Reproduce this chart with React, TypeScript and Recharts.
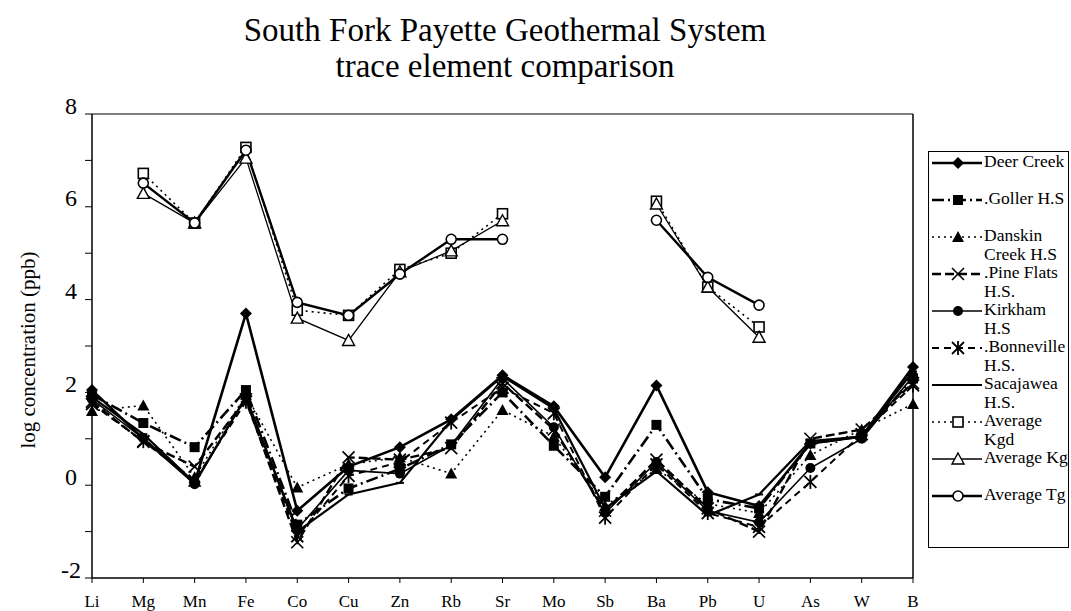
import * as React from 'react';
import { LineChart, Line, XAxis, YAxis, ReferenceLine } from 'recharts';

const elements = ['Li', 'Mg', 'Mn', 'Fe', 'Co', 'Cu', 'Zn', 'Rb', 'Sr', 'Mo', 'Sb', 'Ba', 'Pb', 'U', 'As', 'W', 'B'];

const deerCreek = [2.05, 1.0, 0.05, 3.7, -0.55, 0.4, 0.82, 1.42, 2.37, 1.7, 0.17, 2.15, -0.15, -0.45, 0.9, 1.05, 2.55];
const goller = [1.95, 1.34, 0.82, 2.05, -0.85, -0.07, 0.35, 0.88, 2.0, 0.85, -0.25, 1.3, -0.3, -0.5, 0.9, 1.05, 2.3];
const danskin = [1.6, 1.72, 0.17, 1.95, -0.05, 0.45, 0.6, 0.25, 1.62, 1.05, -0.45, 0.35, -0.4, -0.6, 0.65, 1.2, 1.75];
const pineFlats = [1.8, 0.93, 0.4, 1.85, -1.23, 0.6, 0.55, 0.8, 2.2, 1.2, -0.55, 0.55, -0.5, -1.0, 1.0, 1.2, 2.2];
const kirkham = [1.85, 1.01, 0.02, 1.9, -0.95, 0.32, 0.25, 0.86, 2.3, 1.25, -0.6, 0.5, -0.55, -0.8, 0.37, 1.0, 2.35];
const bonneville = [1.75, 0.95, 0.1, 1.8, -1.1, 0.2, 0.5, 1.35, 2.1, 1.55, -0.7, 0.45, -0.6, -0.9, 0.07, 1.1, 2.15];
const sacajawea = [1.9, 1.1, 0.05, 1.9, -1.0, -0.2, 0.05, 1.4, 2.35, 1.65, -0.5, 0.3, -0.65, -0.2, 0.95, 1.05, 2.45];
const avgKgd = [null, 6.72, 5.65, 7.28, 3.77, 3.66, 4.65, 5.0, 5.85, null, null, 6.12, 4.27, 3.41, null, null, null];
const avgKg = [null, 6.29, 5.65, 7.05, 3.6, 3.12, 4.6, 5.05, 5.7, null, null, 6.06, 4.27, 3.19, null, null, null];
const avgTg = [null, 6.51, 5.65, 7.22, 3.94, 3.66, 4.55, 5.3, 5.3, null, null, 5.71, 4.48, 3.88, null, null, null];

const yTicks = [-2, -1, 0, 1, 2, 3, 4, 5, 6, 7, 8];

const SERIF = "'Liberation Serif', 'Times New Roman', 'DejaVu Serif', serif";

type Shape = 'diamond' | 'square' | 'triangle' | 'x' | 'circle' | 'star' | 'dash' | 'oSquare' | 'oTriangle' | 'oCircle';

type SeriesDef = {
  key: string;
  name: string[];
  values: (number | null)[];
  shape: Shape;
  width: number;
  dash?: string;
};

const series: SeriesDef[] = [
  { key: 'deer', name: ['Deer Creek'], values: deerCreek, shape: 'diamond', width: 2.6 },
  { key: 'goller', name: ['.Goller H.S'], values: goller, shape: 'square', width: 2.6, dash: '12 4 2 4' },
  { key: 'danskin', name: ['Danskin', 'Creek H.S'], values: danskin, shape: 'triangle', width: 1.6, dash: '2 4' },
  { key: 'pine', name: ['.Pine Flats', 'H.S.'], values: pineFlats, shape: 'x', width: 2.4, dash: '9 4' },
  { key: 'kirkham', name: ['Kirkham', 'H.S'], values: kirkham, shape: 'circle', width: 1.6 },
  { key: 'bonne', name: ['.Bonneville', 'H.S.'], values: bonneville, shape: 'star', width: 2, dash: '7 5' },
  { key: 'saca', name: ['Sacajawea', 'H.S.'], values: sacajawea, shape: 'dash', width: 2.2 },
  { key: 'kgd', name: ['Average', 'Kgd'], values: avgKgd, shape: 'oSquare', width: 1.6, dash: '2 4' },
  { key: 'kg', name: ['Average Kg'], values: avgKg, shape: 'oTriangle', width: 1.3 },
  { key: 'tg', name: ['Average Tg'], values: avgTg, shape: 'oCircle', width: 2.4 },
];

const data = elements.map((el, i) => {
  const row: Record<string, string | number | null> = { el };
  series.forEach((s) => {
    row[s.key] = s.values[i];
  });
  return row;
});

function Marker({ shape, cx, cy }: { shape: Shape; cx: number; cy: number }) {
  const s = 5;
  switch (shape) {
    case 'diamond':
      return <polygon points={`${cx},${cy - 6} ${cx + 6},${cy} ${cx},${cy + 6} ${cx - 6},${cy}`} fill="#000" />;
    case 'square':
      return <rect x={cx - s} y={cy - s} width={s * 2} height={s * 2} fill="#000" />;
    case 'triangle':
      return <polygon points={`${cx},${cy - 6} ${cx + 6},${cy + 5} ${cx - 6},${cy + 5}`} fill="#000" />;
    case 'x':
      return (
        <g stroke="#000" strokeWidth={1.6}>
          <line x1={cx - 6} y1={cy - 6} x2={cx + 6} y2={cy + 6} />
          <line x1={cx - 6} y1={cy + 6} x2={cx + 6} y2={cy - 6} />
        </g>
      );
    case 'circle':
      return <circle cx={cx} cy={cy} r={5} fill="#000" />;
    case 'star':
      return (
        <g stroke="#000" strokeWidth={1.8}>
          <line x1={cx - 6} y1={cy - 6} x2={cx + 6} y2={cy + 6} />
          <line x1={cx - 6} y1={cy + 6} x2={cx + 6} y2={cy - 6} />
          <line x1={cx} y1={cy - 7} x2={cx} y2={cy + 7} />
        </g>
      );
    case 'dash':
      return <line x1={cx - 4} y1={cy} x2={cx + 4} y2={cy} stroke="#000" strokeWidth={2} />;
    case 'oSquare':
      return <rect x={cx - 5} y={cy - 5} width={10} height={10} fill="#fff" stroke="#000" strokeWidth={1.6} />;
    case 'oTriangle':
      return (
        <polygon
          points={`${cx},${cy - 6} ${cx + 6},${cy + 5} ${cx - 6},${cy + 5}`}
          fill="#fff"
          stroke="#000"
          strokeWidth={1.4}
        />
      );
    case 'oCircle':
      return <circle cx={cx} cy={cy} r={5} fill="#fff" stroke="#000" strokeWidth={1.6} />;
  }
  return null;
}

function makeDot(shape: Shape) {
  return (props: any) => {
    const { cx, cy, value, index } = props;
    if (value == null || cx == null || cy == null || Number.isNaN(cy)) {
      return <g key={`e-${index}`} />;
    }
    return (
      <g key={`d-${index}`}>
        <Marker shape={shape} cx={cx} cy={cy} />
      </g>
    );
  };
}

function YTick(props: any) {
  const { x, y, payload } = props;
  if (payload.value % 2 !== 0) return <g />;
  return (
    <text x={x - 12} y={y - 6} textAnchor="middle" dominantBaseline="middle" fontSize={24} style={{ fontFamily: SERIF }} fill="#000">
      {payload.value}
    </text>
  );
}

function XTick(props: any) {
  const { x, y, payload } = props;
  return (
    <text x={x} y={y + 18} textAnchor="middle" dominantBaseline="middle" fontSize={17} style={{ fontFamily: SERIF }} fill="#000">
      {payload.value}
    </text>
  );
}

function ChartLegend() {
  const rowGap = 37;
  return (
    <svg
      width={141}
      height={397}
      style={{ position: 'absolute', left: 928, top: 151 }}
    >
      <rect x={0.5} y={0.5} width={140} height={396} fill="#fff" stroke="#000" strokeWidth={1} />
      {series.map((s, i) => {
        const y = 12 + i * rowGap;
        return (
          <g key={s.key}>
            <line x1={4} y1={y} x2={54} y2={y} stroke="#000" strokeWidth={s.width} strokeDasharray={s.dash} />
            <Marker shape={s.shape} cx={30} cy={y} />
            {s.name.map((t, j) => (
              <text
                key={t}
                x={56}
                y={y + j * 19}
                dominantBaseline="middle"
                fontSize={17.5}
                style={{ fontFamily: SERIF }}
                fill="#000"
              >
                {t}
              </text>
            ))}
          </g>
        );
      })}
    </svg>
  );
}

export default function App() {
  return (
    <div style={{ position: 'absolute', left: 0, top: 0, width: 1071, height: 611, background: '#fff', fontFamily: SERIF }}>
      <div
        style={{
          position: 'absolute',
          left: 0,
          width: 1010,
          top: 12,
          textAlign: 'center',
          fontSize: 33,
          lineHeight: '36px',
          color: '#000',
        }}
      >
        South Fork Payette Geothermal System
        <br />
        trace element comparison
      </div>
      <div
        style={{
          position: 'absolute',
          left: 28,
          top: 350,
          transform: 'translate(-50%, -50%) rotate(-90deg)',
          whiteSpace: 'nowrap',
          fontSize: 21,
          color: '#000',
        }}
      >
        log concentration (ppb)
      </div>
      <LineChart
        width={1071}
        height={611}
        data={data}
        margin={{ top: 114, right: 158, bottom: 0, left: 32 }}
        style={{ position: 'absolute', left: 0, top: 0 }}
      >
        <XAxis
          dataKey="el"
          height={33}
          tick={<XTick />}
          tickLine={{ stroke: '#000' }}
          axisLine={{ stroke: '#000', strokeWidth: 1.5 }}
          tickSize={5}
          interval={0}
        />
        <YAxis
          type="number"
          domain={[-2, 8]}
          ticks={yTicks}
          width={60}
          tick={<YTick />}
          tickLine={{ stroke: '#000' }}
          axisLine={{ stroke: '#000', strokeWidth: 1.5 }}
          tickSize={7}
          interval={0}
          allowDataOverflow
        />
        <ReferenceLine y={8} stroke="#000" strokeWidth={1.2} />
        <ReferenceLine x="B" stroke="#000" strokeWidth={1.5} />
        {series.map((s) => (
          <Line
            key={s.key}
            dataKey={s.key}
            stroke="#000"
            strokeWidth={s.width}
            strokeDasharray={s.dash}
            dot={makeDot(s.shape)}
            activeDot={false}
            isAnimationActive={false}
            connectNulls={false}
            type="linear"
          />
        ))}
      </LineChart>
      <ChartLegend />
    </div>
  );
}
